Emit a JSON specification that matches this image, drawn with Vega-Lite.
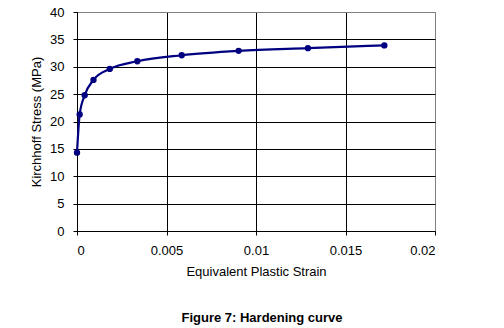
{
  "$schema": "https://vega.github.io/schema/vega-lite/v6.json",
  "width": 358,
  "height": 219,
  "autosize": "none",
  "padding": {"left": 77, "top": 12, "right": 69, "bottom": 97},
  "background": "white",
  "config": {
    "view": {"stroke": "#808080", "strokeWidth": 1},
    "font": "Liberation Sans",
    "axis": {
      "labelFont": "Liberation Sans",
      "titleFont": "Liberation Sans",
      "labelFontSize": 13,
      "titleFontSize": 13,
      "titleFontWeight": "normal",
      "labelColor": "black",
      "titleColor": "black",
      "domainColor": "black",
      "tickColor": "black",
      "gridOpacity": 1,
      "gridWidth": 1,
      "tickSize": 4
    }
  },
  "title": {
    "text": "Figure 7: Hardening curve",
    "orient": "bottom",
    "anchor": "middle",
    "font": "Liberation Sans",
    "fontSize": 13,
    "fontWeight": "bold",
    "color": "black",
    "offset": 34,
    "dx": 6
  },
  "data": {
    "values": [
      {"strain": 0, "stress": 14.3},
      {"strain": 0.00015, "stress": 21.3},
      {"strain": 0.00043, "stress": 24.8},
      {"strain": 0.00092, "stress": 27.6},
      {"strain": 0.00183, "stress": 29.6},
      {"strain": 0.00337, "stress": 31.0},
      {"strain": 0.00585, "stress": 32.1},
      {"strain": 0.00903, "stress": 32.9},
      {"strain": 0.0129, "stress": 33.4},
      {"strain": 0.01717, "stress": 33.9}
    ]
  },
  "encoding": {
    "x": {
      "field": "strain",
      "type": "quantitative",
      "scale": {"domain": [0, 0.02], "nice": false},
      "axis": {
        "title": "Equivalent Plastic Strain",
        "values": [0, 0.005, 0.01, 0.015, 0.02],
        "format": "~g",
        "labelPadding": 9,
        "titlePadding": 8,
        "gridColor": {"condition": {"test": "datum.value >= 0.02", "value": "#808080"}, "value": "black"}
      }
    },
    "y": {
      "field": "stress",
      "type": "quantitative",
      "scale": {"domain": [0, 40], "nice": false},
      "axis": {
        "title": "Kirchhoff Stress (MPa)",
        "values": [0, 5, 10, 15, 20, 25, 30, 35, 40],
        "labelPadding": 9,
        "titlePadding": 6,
        "gridColor": {"condition": {"test": "datum.value >= 40", "value": "#808080"}, "value": "black"}
      }
    }
  },
  "layer": [
    {
      "mark": {"type": "line", "color": "#000080", "strokeWidth": 2.2, "interpolate": "monotone"}
    },
    {
      "mark": {"type": "point", "filled": true, "color": "#000080", "opacity": 1, "size": 40}
    }
  ]
}
